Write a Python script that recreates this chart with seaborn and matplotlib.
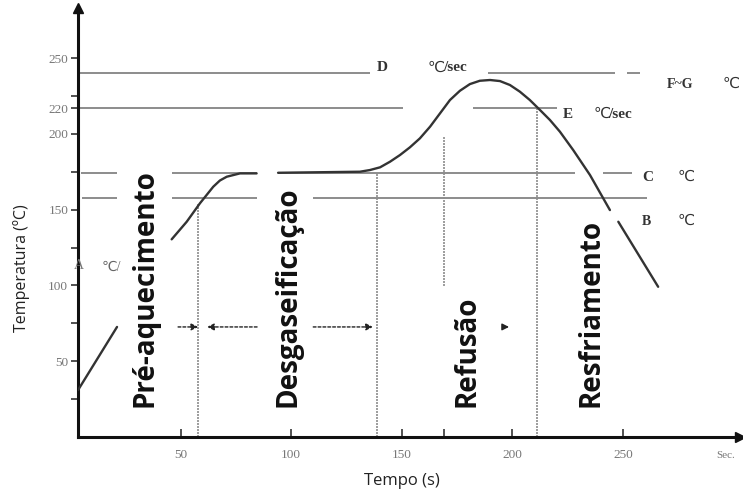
import numpy as np
import pandas as pd
import matplotlib
matplotlib.use("Agg")
import matplotlib.pyplot as plt
import seaborn as sns

# ---------------- data ----------------
# temperature profile (s, degC), split in segments (the sketch has gaps)
curve_seg = [0, 0,
             1, 1, 1, 1, 1, 1, 1, 1,
             2, 2, 2, 2, 2, 2, 2, 2, 2, 2, 2, 2, 2, 2, 2, 2, 2, 2, 2, 2, 2, 2, 2, 2, 2,
             3, 3]
curve_time = [3.7, 21.3,
              46.0, 52.8, 58.8, 64.8, 67.8, 70.9, 76.9, 84.4,
              94.1, 131.1, 135.6, 140.2, 144.7, 149.2, 153.7, 158.2, 162.8, 167.3,
              171.8, 176.3, 180.8, 185.3, 189.9, 194.4, 198.9, 203.4, 207.9, 212.5,
              217.0, 221.5, 227.5, 235.1, 244.1,
              247.9, 265.9]
curve_temp = [31.0, 72.6,
              130.4, 142.0, 154.2, 165.1, 169.2, 171.7, 173.9, 173.9,
              174.3, 175.0, 176.1, 177.9, 181.6, 186.0, 191.1, 197.0, 204.7, 213.5,
              222.3, 228.4, 232.8, 235.0, 235.5, 234.8, 232.2, 227.8, 222.3, 215.7,
              209.1, 201.4, 189.3, 172.8, 149.7,
              142.0, 99.1]

# horizontal reference lines (level, start, end)
hline_temp = [240, 240, 240, 217, 217, 174, 174, 174, 174, 157.7, 157.7, 157.7]
hline_x0 = [4.6, 189.0, 251.8, 4.6, 182.2, 5.0, 46.1, 94.0, 240.9, 5.5, 46.1, 110.0]
hline_x1 = [135.6, 246.4, 257.7, 150.5, 220.2, 21.3, 84.6, 228.3, 254.0, 21.3, 84.6, 260.8]

# vertical reference lines (time, bottom, top)
vline_time = [58.0, 139.0, 168.9, 211.1]
vline_lo = [0, 0, 99.6, 0]
vline_hi = [154.4, 174.0, 197.9, 217.0]

# phase labels
phase_names = ["Pré-aquecimento", "Desgaseificação", "Refusão", "Resfriamento"]
phase_time = [33.8, 98.5, 179.5, 235.5]

# ticks
xticks = [50, 100, 150, 200, 250]
xtick_labels = ["50", "100", "150", "200", "250"]
yticks = [50, 100, 150, 200, 217, 250]
ytick_labels = ["50", "100", "150", "200", "220", "250"]
yminor = [25, 75, 125, 175, 225]

# ---------------- figure ----------------
sns.set_theme(style="white")
plt.rcParams["font.family"] = ["Open Sans", "DejaVu Sans"]

W, H = 743, 495
fig = plt.figure(figsize=(W / 100, H / 100), dpi=100)
ax = fig.add_axes([78 / W, 58 / H, (740 - 78) / W, (437 - 8) / H])
ax.set_xlim(3.66, 302.9)
ax.set_ylim(0, 283)

df = pd.DataFrame({"time": curve_time, "temp": curve_temp, "seg": curve_seg})
ax.hlines(hline_temp, hline_x0, hline_x1, color="#8c8c8c", lw=1.4, zorder=1)
ax.vlines(vline_time, vline_lo, vline_hi, color="#8c8c8c", lw=1.2,
          linestyles=(0, (1.2, 0.6)), zorder=1)
sns.lineplot(data=df, x="time", y="temp", units="seg", estimator=None,
             sort=False, color="#333333", lw=1.7, ax=ax, zorder=3)

# spines / axes arrows
for s in ["top", "right"]:
    ax.spines[s].set_visible(False)
for s in ["left", "bottom"]:
    ax.spines[s].set_color("#111111")
    ax.spines[s].set_linewidth(2.2)
ax.plot([1], [0], marker=">", ms=7, color="#111111", transform=ax.transAxes,
        clip_on=False)
ax.plot([0], [1], marker="^", ms=7, color="#111111", transform=ax.transAxes,
        clip_on=False)

serif = ["Liberation Serif", "DejaVu Serif"]
ax.set_xticks(xticks)
ax.set_xticklabels(xtick_labels, family=serif, color="#777777", fontsize=9.5)
ax.set_xticks([169], minor=True)
ax.set_yticks(yticks)
ax.set_yticklabels(ytick_labels, family=serif, color="#777777", fontsize=9.5)
ax.set_yticks(yminor, minor=True)
ax.tick_params(axis="x", which="both", direction="in", length=6, width=1.2,
               color="#333333", pad=9, bottom=True)
ax.tick_params(axis="y", which="both", direction="out", length=5, width=1.2,
               color="#333333", pad=2, left=True)
ax.set_xlabel("")
ax.set_ylabel("")

# phase labels
for name, t in zip(phase_names, phase_time):
    ax.text(t, 20, name, rotation=90, rotation_mode="anchor", ha="left",
            va="center", fontsize=20, fontweight="bold", color="#111111")

# arrows
arr_y = 72.6
dash = dict(arrowstyle="-|>", color="#222222", lw=1.0, linestyle=(0, (2, 1.5)),
            mutation_scale=10, shrinkA=0, shrinkB=0)
ax.annotate("", xy=(58.0, arr_y), xytext=(48.9, arr_y), arrowprops=dash)
ax.annotate("", xy=(62.0, arr_y), xytext=(84.6, arr_y), arrowprops=dash)
ax.annotate("", xy=(137.0, arr_y), xytext=(110.0, arr_y), arrowprops=dash)
ax.annotate("", xy=(198.5, arr_y), xytext=(196.0, arr_y),
            arrowprops=dict(arrowstyle="-|>", color="#222222", lw=1.0,
                            mutation_scale=10, shrinkA=0, shrinkB=0))

# annotation letters
sym = ["Liberation Serif", "DejaVu Sans"]
def lab(t, T, s, bold=True, size=11, color="#333333", ha="left"):
    ax.text(t, T, s, family=sym, fontsize=size,
            fontweight="bold" if bold else "normal", color=color,
            ha=ha, va="center")

lab(138.5, 243.5, "D")
lab(161.5, 243.5, "℃", bold=False)
lab(168.5, 243.5, "/sec")
lab(270.0, 232.5, "F~G", size=10)
lab(299.0, 232.5, "℃", bold=False, ha="center")
lab(223.0, 213.0, "E")
lab(236.5, 213.0, "℃", bold=False)
lab(243.5, 213.0, "/sec")
lab(258.5, 171.5, "C")
lab(274.5, 171.5, "℃", bold=False)
lab(258.5, 142.0, "B", size=10)
lab(274.5, 142.0, "℃", bold=False)
lab(2.0, 113.0, "A", bold=False, size=10, color="#777777")
lab(14.5, 112.0, "℃/", bold=False, size=10, color="#666666")
ax.text(292.0, -12.0, "Sec.", family=sym, fontsize=8, color="#777777",
        ha="left", va="center", clip_on=False)

# axis titles
fig.text(22 / W, 1 - 268 / H, "Temperatura (ºC)", rotation=90, ha="center",
         va="center", fontsize=11.5, color="#222222")
fig.text(402 / W, 1 - 481 / H, "Tempo (s)", ha="center", va="center",
         fontsize=12, color="#222222")

fig.savefig("out.png", dpi=100)
